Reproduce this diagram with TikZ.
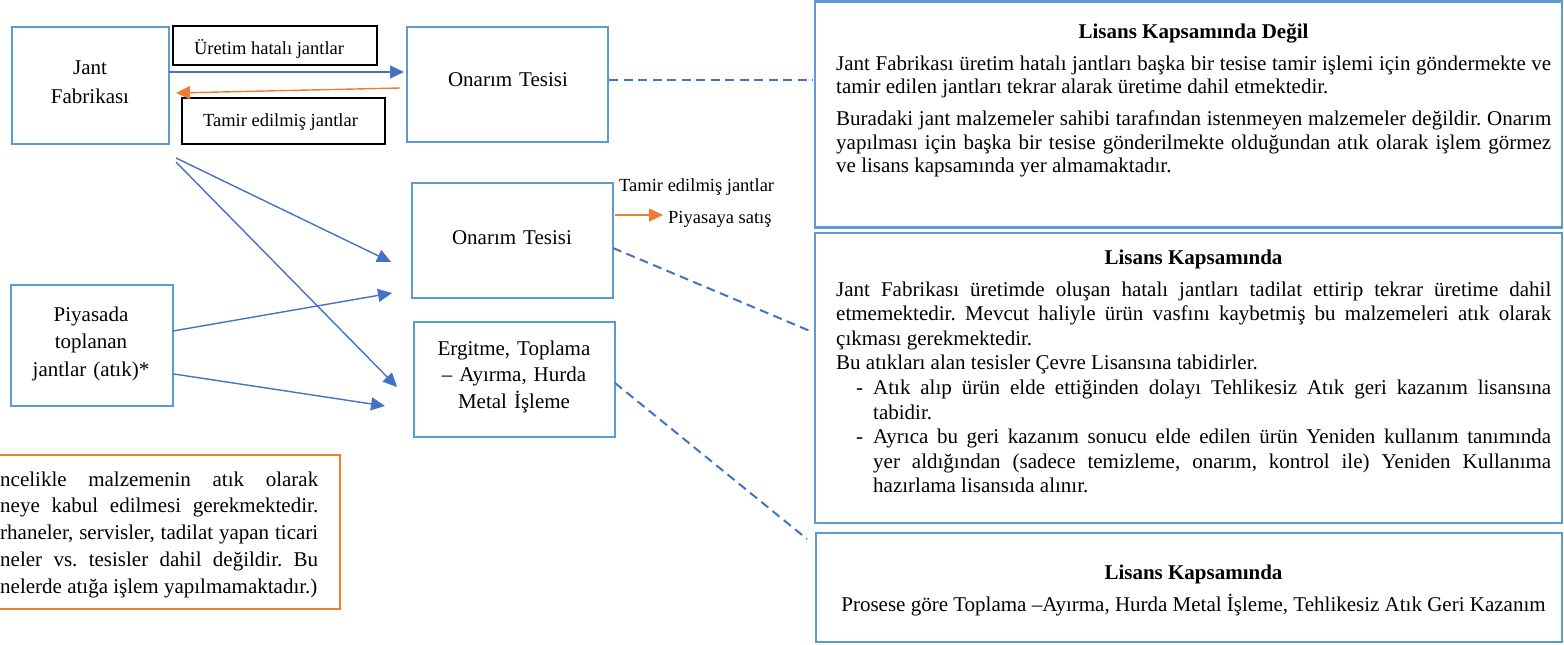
\documentclass[tikz,border=0pt]{standalone}
\usepackage{fontspec}
\setmainfont{Liberation Serif}
\usetikzlibrary{arrows.meta}
\definecolor{boxblue}{HTML}{5B9BD5}
\definecolor{arrblue}{HTML}{4472C4}
\definecolor{orng}{HTML}{ED7D31}
\hyphenpenalty=10000
\exhyphenpenalty=10000
\frenchspacing
\tikzset{
  bluebox/.style={draw=boxblue, line width=2.6pt, inner sep=0pt, rectangle},
  lblbox/.style={draw=black, line width=1.3pt, inner sep=0pt, rectangle},
  notebox/.style={draw=orng, line width=2.6pt, inner sep=0pt, rectangle},
  boxtxt/.style={inner sep=0pt, anchor=base, align=center, text width=190pt},
  lbltxt/.style={inner sep=0pt, anchor=base, font=\fontsize{18.5}{22}\selectfont},
  sidetxt/.style={inner sep=0pt, anchor=base west, font=\fontsize{18.5}{22}\selectfont},
  headtxt/.style={inner sep=0pt, anchor=base, font=\fontsize{21}{24}\selectfont\bfseries},
  bodytxt/.style={inner sep=0pt, anchor=base west, text width=715pt, align=justify},
  flow/.style={draw=arrblue, line width=1.4pt, -{Triangle[length=14pt,width=13pt]}},
  back/.style={draw=orng, line width=1.4pt, -{Triangle[length=14pt,width=13pt]}},
  link/.style={draw=arrblue, line width=2pt, dash pattern=on 9pt off 5.5pt}
}
\begin{document}
\begin{tikzpicture}[x=1pt,y=-1pt]
\useasboundingbox (0,0) rectangle (1564,645);
\clip (0,0) rectangle (1564,645);

% left column boxes
\node[bluebox, minimum width=157pt, minimum height=117pt] (jant) at (90.5,85.5) {};
\node[boxtxt, font=\fontsize{21}{29}\selectfont] (jantT) at (90,74) {Jant\\Fabrikası};

\node[bluebox, minimum width=162pt, minimum height=121pt] (piy) at (92,345.5) {};
\node[boxtxt, font=\fontsize{21}{27.5}\selectfont] (piyT) at (91,321) {Piyasada\\toplanan\\jantlar (atık)*};

% label boxes
\node[lblbox, minimum width=204pt, minimum height=39pt] (uret) at (275,45.5) {};
\node[lbltxt] (uretT) at (269,54) {Üretim hatalı jantlar};
\node[lblbox, minimum width=203pt, minimum height=46pt] (tam) at (283.5,121) {};
\node[lbltxt] (tamT) at (280.5,126) {Tamir edilmiş jantlar};

% middle column boxes
\node[bluebox, minimum width=201pt, minimum height=115pt] (on1) at (507.5,84.5) {};
\node[boxtxt, font=\fontsize{21}{27}\selectfont] (on1T) at (508,86) {Onarım Tesisi};

\node[bluebox, minimum width=201pt, minimum height=115pt] (on2) at (512.5,240.5) {};
\node[boxtxt, font=\fontsize{21}{27}\selectfont] (on2T) at (512,244) {Onarım Tesisi};

\node[bluebox, minimum width=201pt, minimum height=115pt] (erg) at (514.5,379.5) {};
\node[boxtxt, font=\fontsize{21}{26.5}\selectfont] (ergT) at (514,355) {Ergitme, Toplama\\– Ayırma, Hurda\\Metal İşleme};

% side texts
\node[sidetxt] (satT1) at (619,191) {Tamir edilmiş jantlar};
\node[sidetxt] (satT2) at (668,223) {Piyasaya satış};

% note box (cut at left edge)
\node[notebox, minimum width=350pt, minimum height=154pt] (note) at (165,532) {};
\node[inner sep=0pt, anchor=base west, text width=318pt, align=justify, font=\fontsize{21}{26.8}\selectfont] (noteT) at (0,486)
 {ncelikle malzemenin atık olarak\linebreak
  neye kabul edilmesi gerekmektedir.\linebreak
  rhaneler, servisler, tadilat yapan ticari\linebreak
  neler vs. tesisler dahil değildir. Bu\linebreak
  nelerde atığa işlem yapılmamaktadır.)\par};

% right boxes
\node[bluebox, minimum width=747pt, minimum height=226pt] (lis1) at (1188.5,114.5) {};
\node[headtxt] (lis1H) at (1193.5,38) {Lisans Kapsamında Değil};
\node[bodytxt, font=\fontsize{21}{24}\selectfont] (lis1T) at (836,70)
 {Jant Fabrikası üretim hatalı jantları başka bir tesise tamir işlemi için göndermekte ve\linebreak
  tamir edilen jantları tekrar alarak üretime dahil etmektedir.\par\vspace{7pt}
  Buradaki jant malzemeler sahibi tarafından istenmeyen malzemeler değildir. Onarım\linebreak
  yapılması için başka bir tesise gönderilmekte olduğundan atık olarak işlem görmez\linebreak
  ve lisans kapsamında yer almamaktadır.\par};

\node[bluebox, minimum width=747pt, minimum height=290pt] (lis2) at (1188.5,378) {};
\node[headtxt] (lis2H) at (1193.5,264) {Lisans Kapsamında};
\node[bodytxt, font=\fontsize{21}{24.6}\selectfont] (lis2T) at (836,296)
 {Jant Fabrikası üretimde oluşan hatalı jantları tadilat ettirip tekrar üretime dahil\linebreak
  etmemektedir. Mevcut haliyle ürün vasfını kaybetmiş bu malzemeleri atık olarak\linebreak
  çıkması gerekmektedir.\par
  Bu atıkları alan tesisler Çevre Lisansına tabidirler.\par
  \hspace*{20pt}\makebox[17pt][l]{-}\hangindent=37pt\hangafter=1 Atık alıp ürün elde ettiğinden dolayı Tehlikesiz Atık geri kazanım lisansına\linebreak
  tabidir.\par
  \hspace*{20pt}\makebox[17pt][l]{-}\hangindent=37pt\hangafter=1 Ayrıca bu geri kazanım sonucu elde edilen ürün Yeniden kullanım tanımında\linebreak
  yer aldığından (sadece temizleme, onarım, kontrol ile) Yeniden Kullanıma\linebreak
  hazırlama lisansıda alınır.\par};

\node[bluebox, minimum width=746pt, minimum height=109pt] (lis3) at (1189,587.5) {};
\node[headtxt] (lis3H) at (1193.5,579) {Lisans Kapsamında};
\node[inner sep=0pt, anchor=base, font=\fontsize{21}{24}\selectfont] (lis3T) at (1193.5,611)
 {Prosese göre Toplama –Ayırma, Hurda Metal İşleme, Tehlikesiz Atık Geri Kazanım};

% connector end points
\coordinate (f1s) at (169,72);   \coordinate (f1e) at (404,72);
\coordinate (b1s) at (400,88);   \coordinate (b1e) at (176,93);
\coordinate (d1s) at (609,80);   \coordinate (d1e) at (813,80);
\coordinate (a1s) at (176,158);  \coordinate (a1e) at (391,262);
\coordinate (a2s) at (176,162);  \coordinate (a2e) at (397,387);
\coordinate (a3s) at (173,331);  \coordinate (a3e) at (392,293);
\coordinate (a4s) at (174,374);  \coordinate (a4e) at (385,406);
\coordinate (s1s) at (615,215);  \coordinate (s1e) at (663,215);
\coordinate (d2s) at (613,248);  \coordinate (d2e) at (810,331);
\coordinate (d3s) at (615,383);  \coordinate (d3e) at (807,539);

\draw[flow] (f1s) -- (f1e);
\draw[back] (b1s) -- (b1e);
\draw[link] (d1s) -- (d1e);
\draw[flow] (a1s) -- (a1e);
\draw[flow] (a2s) -- (a2e);
\draw[flow] (a3s) -- (a3e);
\draw[flow] (a4s) -- (a4e);
\draw[back] (s1s) -- (s1e);
\draw[link] (d2s) -- (d2e);
\draw[link] (d3s) -- (d3e);
\end{tikzpicture}
\end{document}
